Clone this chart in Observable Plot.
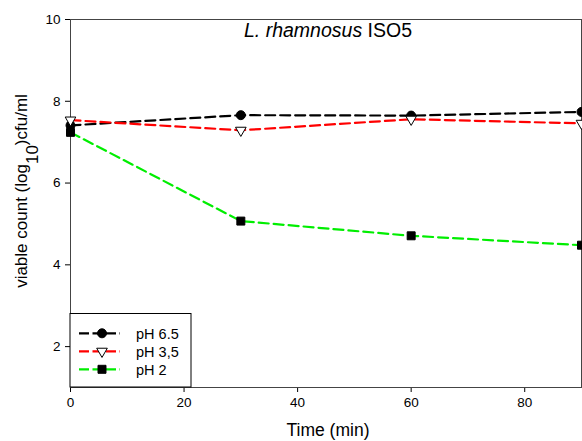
<!DOCTYPE html>
<html>
<head>
<meta charset="utf-8">
<script src="https://cdn.jsdelivr.net/npm/d3@7"></script>
<script src="https://cdn.jsdelivr.net/npm/@observablehq/plot@0.6"></script>
<style>
  body { margin: 0; background: #fff; }
  #chart { width: 582px; height: 441px; }
  svg { font-family: Arial, "Liberation Sans", sans-serif; }
</style>
</head>
<body>
<div id="chart"></div>
<script>
const times = [0, 30, 60, 90];
const ph65 = [7.41, 7.66, 7.65, 7.74];
const ph35 = [7.54, 7.29, 7.56, 7.46];
const ph2  = [7.24, 5.07, 4.71, 4.48];
const seriesNames = ["pH 6.5", "pH 3,5", "pH 2"];
const seriesColors = ["#000000", "#ff0000", "#00ee00"];
const xTicks = [0, 20, 40, 60, 80];
const yTicks = [2, 4, 6, 8, 10];

const triDown = {
  draw(ctx, size) {
    const s = Math.sqrt(size) * 1.2;
    const h = s * Math.sqrt(3) / 2;
    ctx.moveTo(-s / 2, -h / 3);
    ctx.lineTo(s / 2, -h / 3);
    ctx.lineTo(0, 2 * h / 3);
    ctx.closePath();
  }
};
const symbols = ["circle", triDown, "square"];
const fills = ["#000", "#fff", "#000"];
const sizes = [4.5, 5, 4.5];

const valuesList = [ph65, ph35, ph2];
const rows = [];
valuesList.forEach((vals, i) => vals.forEach((v, j) => rows.push({series: seriesNames[i], t: times[j], v})));

const marks = [Plot.frame({stroke: "#444"})];
seriesNames.forEach((name, i) => {
  const d = rows.filter(r => r.series === name);
  marks.push(Plot.line(d, {x: "t", y: "v", stroke: seriesColors[i], strokeWidth: 2.2, strokeDasharray: "10,5"}));
});
seriesNames.forEach((name, i) => {
  const d = rows.filter(r => r.series === name);
  marks.push(Plot.dot(d, {x: "t", y: "v", symbol: () => symbols[i], fill: fills[i], stroke: "#000", strokeWidth: 1, r: sizes[i]}));
});

const plot = Plot.plot({
  width: 582, height: 441,
  marginLeft: 70, marginRight: 1, marginTop: 19, marginBottom: 54,
  style: {fontFamily: "Arial, 'Liberation Sans', sans-serif", fontSize: "13.5px", color: "#000", background: "#fff"},
  x: {domain: [0, 90], ticks: xTicks, tickSize: 5, tickPadding: 5, label: null},
  y: {domain: [1, 10], ticks: yTicks, tickSize: 5, tickPadding: 5, label: null},
  symbol: {type: "identity"},
  marks
});
document.getElementById("chart").appendChild(plot);

const svg = d3.select(plot);

// Title
const title = svg.append("text").attr("x", 328).attr("y", 37).attr("text-anchor", "middle")
  .style("font-size", "19.5px");
title.append("tspan").style("font-style", "italic").text("L. rhamnosus");
title.append("tspan").text(" ISO5");

// x label
svg.append("text").attr("x", 328).attr("y", 436).attr("text-anchor", "middle").style("font-size", "17.5px").text("Time (min)");

// y label with subscript
const yl = svg.append("text").attr("transform", "translate(27,191) rotate(-90)").attr("text-anchor", "middle").style("font-size", "17px");
yl.append("tspan").text("viable count (log");
yl.append("tspan").attr("dy", 11).text("10");
yl.append("tspan").attr("dy", -11).text(")cfu/ml");

// Legend
const lg = svg.append("g");
lg.append("rect").attr("x", 70).attr("y", 313.5).attr("width", 121).attr("height", 73.5)
  .attr("fill", "#fff").attr("stroke", "#000").attr("stroke-width", 1);
seriesNames.forEach((name, i) => {
  const y = 333.3 + i * 18;
  lg.append("line").attr("x1", 79).attr("x2", 120).attr("y1", y).attr("y2", y)
    .attr("stroke", seriesColors[i]).attr("stroke-width", 2.2).attr("stroke-dasharray", "10,3.5");
  let path;
  if (i === 0) path = d3.symbol(d3.symbolCircle, Math.PI * sizes[0] * sizes[0])();
  else if (i === 1) path = d3.symbol(triDown, Math.PI * sizes[1] * sizes[1])();
  else path = d3.symbol(d3.symbolSquare, Math.PI * sizes[2] * sizes[2])();
  lg.append("path").attr("d", path).attr("transform", `translate(102,${y})`)
    .attr("fill", fills[i]).attr("stroke", "#000");
  lg.append("text").attr("x", 136).attr("y", y).attr("dy", "0.36em").attr("text-anchor", "start")
    .style("font-size", "14.5px").text(name);
});
</script>
</body>
</html>
